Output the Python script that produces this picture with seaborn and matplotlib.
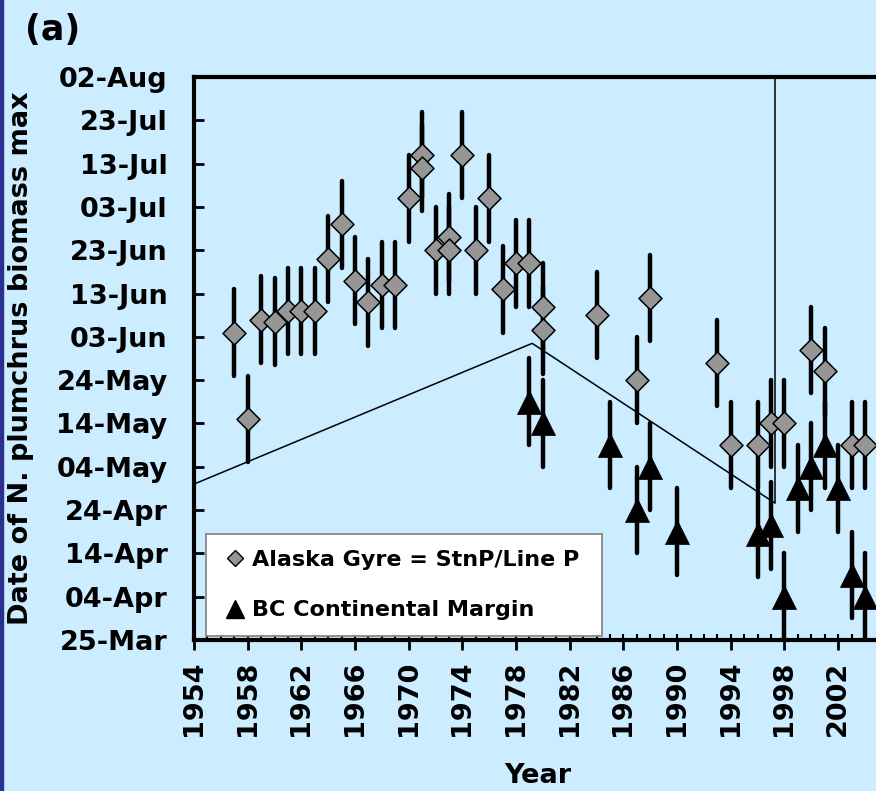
import matplotlib
matplotlib.use("Agg")
import matplotlib.pyplot as plt
import pandas as pd
import seaborn as sns
from matplotlib.lines import Line2D
from matplotlib.patches import Rectangle
from matplotlib.ticker import MultipleLocator

# Alaska Gyre (Station P / Line P): year and day-of-year of N. plumchrus biomass maximum
GYRE_YEARS = [1957, 1958, 1959, 1960, 1961, 1962, 1963, 1964, 1965, 1966,
              1967, 1968, 1969, 1970, 1971, 1971, 1972, 1973, 1973, 1974,
              1975, 1976, 1977, 1978, 1979, 1980, 1980, 1984, 1987, 1988,
              1993, 1994, 1996, 1997, 1998, 2000, 2001, 2003, 2004]
GYRE_DOY = [155, 135, 158, 157.5, 160, 160, 160, 172, 180, 167,
            162, 166, 166, 186, 196, 193, 174, 177, 174, 196,
            174, 186, 165, 171, 171, 161, 155.5, 159, 144, 163,
            148, 129, 129, 134, 134, 151, 146, 129, 129]

# BC Continental Margin
MARGIN_YEARS = [1979, 1980, 1985, 1987, 1988, 1990, 1996, 1997, 1998, 1999,
                2000, 2001, 2002, 2003, 2004]
MARGIN_DOY = [139, 134, 129, 114, 124, 109, 108.5, 110.5, 94, 119,
              124, 129, 119, 99, 94]

# +/- spread (days) on each timing estimate
ERR_DAYS = 10

# Piecewise timing trend and the regime break year
TREND_YEARS = [1954, 1979.2, 1997.3]
TREND_DOY = [120, 152.5, 115.6]
BREAK_YEAR = 1997.3

Y_TICK_LABELS = ["25-Mar", "04-Apr", "14-Apr", "24-Apr", "04-May", "14-May",
                 "24-May", "03-Jun", "13-Jun", "23-Jun", "03-Jul", "13-Jul",
                 "23-Jul", "02-Aug"]
X_TICK_YEARS = [1954, 1958, 1962, 1966, 1970, 1974, 1978, 1982, 1986, 1990,
                1994, 1998, 2002]
LEGEND_LABELS = ["Alaska Gyre = StnP/Line P", "BC Continental Margin"]

y_tick_doy = pd.to_datetime([f"{s}-2001" for s in Y_TICK_LABELS],
                            format="%d-%b-%Y").dayofyear

BG = "#CCECFF"
sns.set_style("ticks")
plt.rcParams["font.family"] = ["DejaVu Sans"]
plt.rcParams["font.weight"] = "bold"
plt.rcParams["text.color"] = "black"
plt.rcParams["axes.labelcolor"] = "black"
plt.rcParams["xtick.color"] = "black"
plt.rcParams["ytick.color"] = "black"

fig = plt.figure(figsize=(8.76, 7.91), dpi=100, facecolor=BG)
ax = fig.add_axes([194 / 876, 1 - 640 / 791, (891.8 - 194) / 876, (640 - 77) / 791])
ax.set_facecolor(BG)

# trend line and break marker
sns.lineplot(x=TREND_YEARS, y=TREND_DOY, color="black", linewidth=1.1,
             sort=False, estimator=None, ax=ax, zorder=1)
ax.vlines(BREAK_YEAR, TREND_DOY[-1], y_tick_doy[-1], color="black",
          linewidth=1.1, zorder=1)

# Alaska Gyre series
eb = ax.errorbar(GYRE_YEARS, GYRE_DOY, yerr=ERR_DAYS, fmt="none",
                 ecolor="black", elinewidth=3.2, capsize=0, zorder=2)
eb[2][0].set_capstyle("round")
sns.scatterplot(x=GYRE_YEARS, y=GYRE_DOY, marker="D", s=137, color="#969696",
                edgecolor="black", linewidth=1.1, ax=ax, zorder=3, legend=False)

# Continental margin series
eb = ax.errorbar(MARGIN_YEARS, MARGIN_DOY, yerr=ERR_DAYS, fmt="none",
                 ecolor="black", elinewidth=3.2, capsize=0, zorder=4)
eb[2][0].set_capstyle("round")
sns.scatterplot(x=MARGIN_YEARS, y=MARGIN_DOY, marker="^", s=300, color="black",
                edgecolor="black", linewidth=0.5, ax=ax, zorder=5, legend=False)

ax.set_xlim(1954, 2006)
ax.set_ylim(y_tick_doy[0], y_tick_doy[-1])

ax.set_yticks(y_tick_doy)
ax.set_yticklabels(Y_TICK_LABELS)
ax.set_xticks(X_TICK_YEARS)
ax.set_xticklabels([str(y) for y in X_TICK_YEARS], rotation=90)
ax.xaxis.set_minor_locator(MultipleLocator(1))
ax.xaxis.remove_overlapping_locs = False

ax.tick_params(axis="y", which="major", direction="in", length=7, width=2,
               pad=19, labelsize=19.5, colors="black")
ax.tick_params(axis="x", which="major", direction="out", length=7, width=2,
               pad=8, labelsize=19.5, colors="black")
ax.tick_params(axis="x", which="minor", direction="in", length=4.5, width=1.5,
               colors="black")
for lab in ax.get_xticklabels() + ax.get_yticklabels():
    lab.set_fontweight("bold")
    lab.set_color("black")

for side in ["left", "top", "bottom"]:
    ax.spines[side].set_linewidth(3)
    ax.spines[side].set_color("black")
ax.spines["right"].set_visible(False)

ax.set_ylabel("Date of N. plumchrus biomass max", fontsize=19.5,
              fontweight="bold", va="center", color="black")
ax.yaxis.set_label_coords(-0.2486, 0.5)
ax.set_xlabel("Year", fontsize=19.5, fontweight="bold", va="center",
              color="black")
ax.xaxis.set_label_coords(0.493, -0.2416)

handles = [
    Line2D([], [], ls="none", marker="D", ms=8, mfc="#969696", mec="black", mew=1),
    Line2D([], [], ls="none", marker="^", ms=13, mfc="black", mec="black"),
]
leg = ax.legend(handles, LEGEND_LABELS, loc="lower left", mode="expand",
                bbox_to_anchor=(0.0172, 0.0071, 0.5675, 0.2), borderaxespad=0,
                frameon=True, fancybox=False, framealpha=1,
                facecolor="white", edgecolor="#808080",
                prop={"size": 16, "weight": "bold"}, borderpad=0.7,
                labelspacing=1.38, handlelength=1.25, handletextpad=0.11,
                labelcolor="black")
leg.get_frame().set_linewidth(1.2)
leg.set_zorder(6)

fig.text(25 / 876, 1 - 30 / 791, "(a)", fontsize=25, fontweight="bold",
         va="center", ha="left", color="black")
fig.add_artist(Rectangle((0, 0), 3 / 876, 1, transform=fig.transFigure,
                         color="#2B3090", zorder=10))

fig.savefig("out.png", dpi=100, facecolor=BG)
